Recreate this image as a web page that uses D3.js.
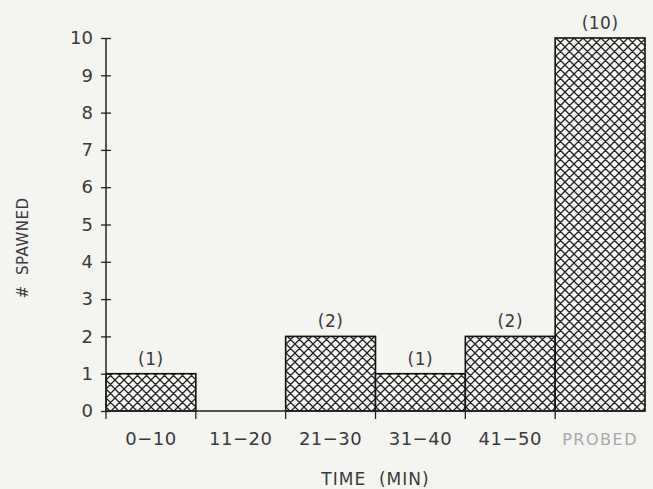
<!DOCTYPE html>
<html>
<head>
<meta charset="utf-8">
<script src="https://cdn.jsdelivr.net/npm/d3@7"></script>
<style>
  body { margin: 0; background: #f4f4f1; }
  svg { display: block; }
  text { font-family: "DejaVu Sans", sans-serif; fill: #3a3a3a; }
</style>
</head>
<body>
<div id="chart"></div>
<script>
// data
const categories = ['0-10', '11-20', '21-30', '31-40', '41-50', 'PROBED'];
const spawned = [1, 0, 2, 1, 2, 10];
const yTicks = [0, 1, 2, 3, 4, 5, 6, 7, 8, 9, 10];

const W = 653, H = 489;
const margin = { top: 38, right: 8, bottom: 78, left: 106 };
const width = W - margin.left - margin.right;
const height = H - margin.top - margin.bottom;

const root = d3.select('#chart').append('svg')
  .attr('width', W)
  .attr('height', H);

const defs = root.append('defs');
const pat = defs.append('pattern')
  .attr('id', 'hatch')
  .attr('patternUnits', 'userSpaceOnUse')
  .attr('width', 9)
  .attr('height', 9);
pat.append('rect').attr('width', 9).attr('height', 9).attr('fill', '#f7f7f5');
pat.append('path')
  .attr('d', 'M0,0 L9,9 M-1,8 L1,10 M8,-1 L10,1 M9,0 L0,9 M-1,1 L1,-1 M8,10 L10,8')
  .attr('stroke', '#222')
  .attr('stroke-width', 1.3);

const svg = root.append('g')
  .attr('transform', `translate(${margin.left},${margin.top})`);

const x = d3.scaleBand().domain(categories).range([0, width]).padding(0);
const y = d3.scaleLinear().domain([0, 10]).range([height, 0]);

const rows = categories.map((c, i) => ({ c, v: spawned[i] }));

// bars
svg.selectAll('rect.bar')
  .data(rows)
  .enter()
  .append('rect')
  .attr('class', 'bar')
  .attr('x', d => x(d.c))
  .attr('y', d => y(d.v))
  .attr('width', x.bandwidth())
  .attr('height', d => height - y(d.v))
  .attr('fill', 'url(#hatch)')
  .attr('stroke', d => d.v > 0 ? '#111' : 'none')
  .attr('stroke-width', 1.6);

// value labels
svg.selectAll('text.val')
  .data(rows.filter(d => d.v > 0))
  .enter()
  .append('text')
  .attr('class', 'val')
  .attr('x', d => x(d.c) + x.bandwidth() / 2)
  .attr('y', d => y(d.v) - 9)
  .attr('text-anchor', 'middle')
  .style('font-size', '17px')
  .style('letter-spacing', '0.5px')
  .text(d => `(${d.v})`);

// y axis
const yAxis = svg.append('g')
  .call(d3.axisLeft(y).tickValues(yTicks).tickSize(6).tickPadding(7));
yAxis.select('.domain').attr('stroke', '#222').attr('stroke-width', 1.5).attr('d', `M0,${y(10)}V${y(0)}`);
yAxis.selectAll('.tick line').attr('x1', -5).attr('x2', 5).attr('stroke', '#222').attr('stroke-width', 1.3);
yAxis.selectAll('.tick text')
  .style('font-size', '18px')
  .style('font-family', '"DejaVu Sans", sans-serif')
  .attr('fill', '#3a3a3a');

// x axis baseline + boundary ticks
const xAxis = svg.append('g').attr('transform', `translate(0,${height})`);
xAxis.append('line')
  .attr('x1', 0).attr('x2', width)
  .attr('stroke', '#222').attr('stroke-width', 1.3);
const bounds = categories.map(c => x(c));
xAxis.selectAll('line.bt')
  .data(bounds)
  .enter()
  .append('line')
  .attr('class', 'bt')
  .attr('x1', d => d).attr('x2', d => d)
  .attr('y1', 0).attr('y2', 8)
  .attr('stroke', '#222').attr('stroke-width', 1.3);
xAxis.selectAll('text.cat')
  .data(categories)
  .enter()
  .append('text')
  .attr('class', 'cat')
  .attr('x', d => x(d) + x.bandwidth() / 2)
  .attr('y', 34)
  .attr('text-anchor', 'middle')
  .style('font-size', d => d === 'PROBED' ? '16px' : '18px')
  .style('letter-spacing', d => d === 'PROBED' ? '1.5px' : '0.5px')
  .style('fill', d => d === 'PROBED' ? '#a8a8a8' : '#3a3a3a')
  .text(d => d.replace('-', '\u2212'));

// axis titles
root.append('text')
  .attr('x', margin.left + width / 2)
  .attr('y', 485)
  .attr('text-anchor', 'middle')
  .style('font-size', '17px')
  .style('letter-spacing', '1px')
  .attr('xml:space', 'preserve')
  .text('TIME  (MIN)');

root.append('text')
  .attr('transform', 'translate(28,248) rotate(-90)')
  .attr('text-anchor', 'middle')
  .style('font-size', '15px')
  .style('letter-spacing', '0.5px')
  .attr('xml:space', 'preserve')
  .text('#  SPAWNED');
</script>
</body>
</html>
